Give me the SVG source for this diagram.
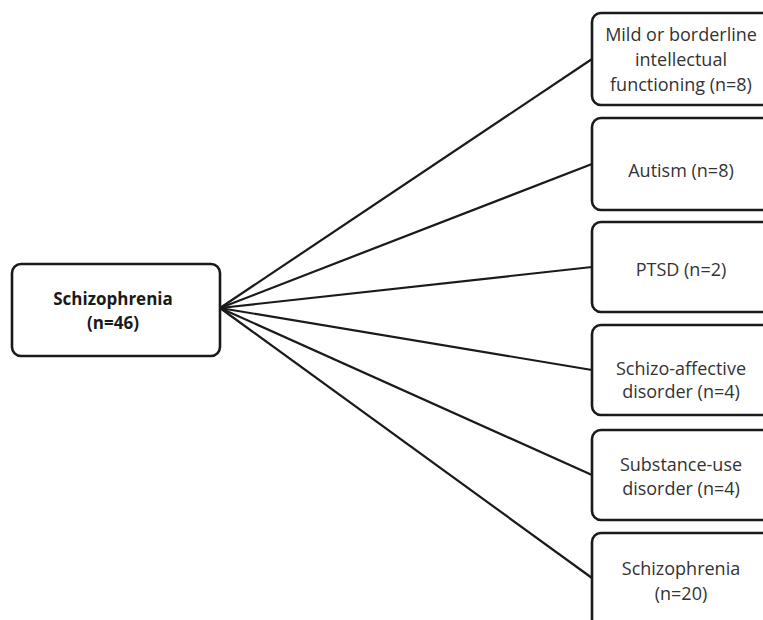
<svg xmlns="http://www.w3.org/2000/svg" width="763" height="620" viewBox="0 0 763 620">
<style>
.box{fill:#fff;stroke:#1a1a1a;stroke-width:2.6}
.ln{stroke:#1a1a1a;stroke-width:2.2;fill:none}
text{font-family:"Open Sans","Liberation Sans",sans-serif;font-size:18px;fill:#333;text-anchor:middle}
.b{font-weight:bold;fill:#1a1a1a;font-size:17px}
</style>
<rect width="763" height="620" fill="#fff"/>
<g id="connectors">
<line class="ln" x1="220" y1="308" x2="592" y2="59"/>
<line class="ln" x1="220" y1="308" x2="592" y2="164"/>
<line class="ln" x1="220" y1="308" x2="592" y2="267"/>
<line class="ln" x1="220" y1="308" x2="592" y2="370"/>
<line class="ln" x1="220" y1="308" x2="592" y2="475"/>
<line class="ln" x1="220" y1="308" x2="592" y2="578"/>
</g>
<g id="root">
<rect class="box" x="12" y="264" width="208" height="92" rx="9"/>
<text class="b" x="113" y="305">Schizophrenia</text>
<text class="b" x="113" y="329">(n=46)</text>
</g>
<g id="n1">
<rect class="box" x="592" y="13" width="180" height="92" rx="9"/>
<text x="681" y="41">Mild or borderline</text>
<text x="681" y="66">intellectual</text>
<text x="681" y="91">functioning (n=8)</text>
</g>
<g id="n2">
<rect class="box" x="592" y="118" width="180" height="92" rx="9"/>
<text x="681" y="177">Autism (n=8)</text>
</g>
<g id="n3">
<rect class="box" x="592" y="222" width="180" height="90" rx="9"/>
<text x="681" y="276">PTSD (n=2)</text>
</g>
<g id="n4">
<rect class="box" x="592" y="325" width="180" height="90" rx="9"/>
<text x="681" y="375">Schizo-affective</text>
<text x="681" y="398">disorder (n=4)</text>
</g>
<g id="n5">
<rect class="box" x="592" y="430" width="180" height="90" rx="9"/>
<text x="681" y="471">Substance-use</text>
<text x="681" y="495">disorder (n=4)</text>
</g>
<g id="n6">
<rect class="box" x="592" y="533" width="180" height="100" rx="9"/>
<text x="681" y="575">Schizophrenia</text>
<text x="681" y="600">(n=20)</text>
</g>
</svg>
